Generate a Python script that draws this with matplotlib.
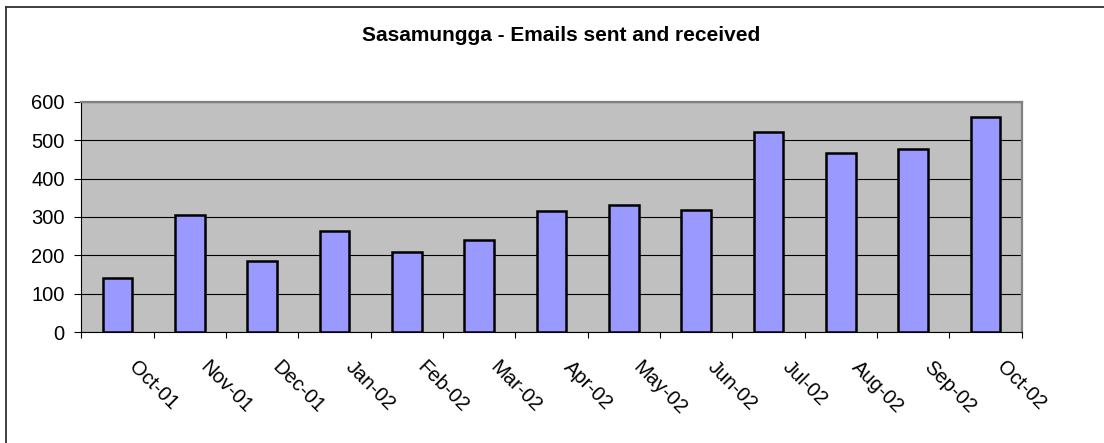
import matplotlib
matplotlib.use('Agg')
import matplotlib.pyplot as plt
from matplotlib.lines import Line2D

# monthly email counts
months = ['Oct-01', 'Nov-01', 'Dec-01', 'Jan-02', 'Feb-02', 'Mar-02', 'Apr-02',
          'May-02', 'Jun-02', 'Jul-02', 'Aug-02', 'Sep-02', 'Oct-02']
emails = [140, 306, 185, 264, 209, 239, 316, 330, 318, 522, 466, 476, 559]
y_ticks = [0, 100, 200, 300, 400, 500, 600]

plt.rcParams['font.family'] = ['Liberation Sans', 'DejaVu Sans']

W, H = 1104, 443
fig = plt.figure(figsize=(W / 100, H / 100), dpi=100)
ax = fig.add_axes([81.3 / W, (H - 332.3) / H, (1021.7 - 81.3) / W, (332.3 - 101.7) / H])

ax.set_facecolor('#C0C0C0')
ax.bar(range(len(months)), emails, width=0.41, color='#9999FF',
       edgecolor='black', linewidth=1.8, zorder=3)

ax.set_xlim(-0.5, len(months) - 0.5)
ax.set_ylim(0, 600)
ax.set_yticks(y_ticks)
ax.yaxis.grid(True, color='black', linewidth=0.8, zorder=1)
ax.tick_params(axis='y', direction='out', length=5, width=0.8, pad=7, labelsize=14.5)

# ticks on category boundaries, labels centred on the right boundary of each month
bounds = [i - 0.5 for i in range(len(months) + 1)]
ax.set_xticks(bounds)
ax.set_xticklabels([''] + months, rotation=-45, ha='center', fontsize=14.5)
ax.tick_params(axis='x', direction='out', length=4.3, width=0.8, pad=14)

for side in ['top', 'right']:
    ax.spines[side].set_color('#808080')
    ax.spines[side].set_linewidth(1.6)
for side in ['left', 'bottom']:
    ax.spines[side].set_color('black')
    ax.spines[side].set_linewidth(0.8)

fig.text(561.5 / W, 1 - 35.5 / H, 'Sasamungga - Emails sent and received',
         ha='center', va='center', fontsize=15, fontweight='bold')

# chart area border (left and top edges only)
fig.add_artist(Line2D([5.8 / W, 5.8 / W], [0, 1 - 7.3 / H], transform=fig.transFigure,
                      color='#303030', linewidth=1.3))
fig.add_artist(Line2D([5.8 / W, 1], [1 - 7.3 / H, 1 - 7.3 / H], transform=fig.transFigure,
                      color='#303030', linewidth=1.3))

fig.savefig('out.png', dpi=100)
